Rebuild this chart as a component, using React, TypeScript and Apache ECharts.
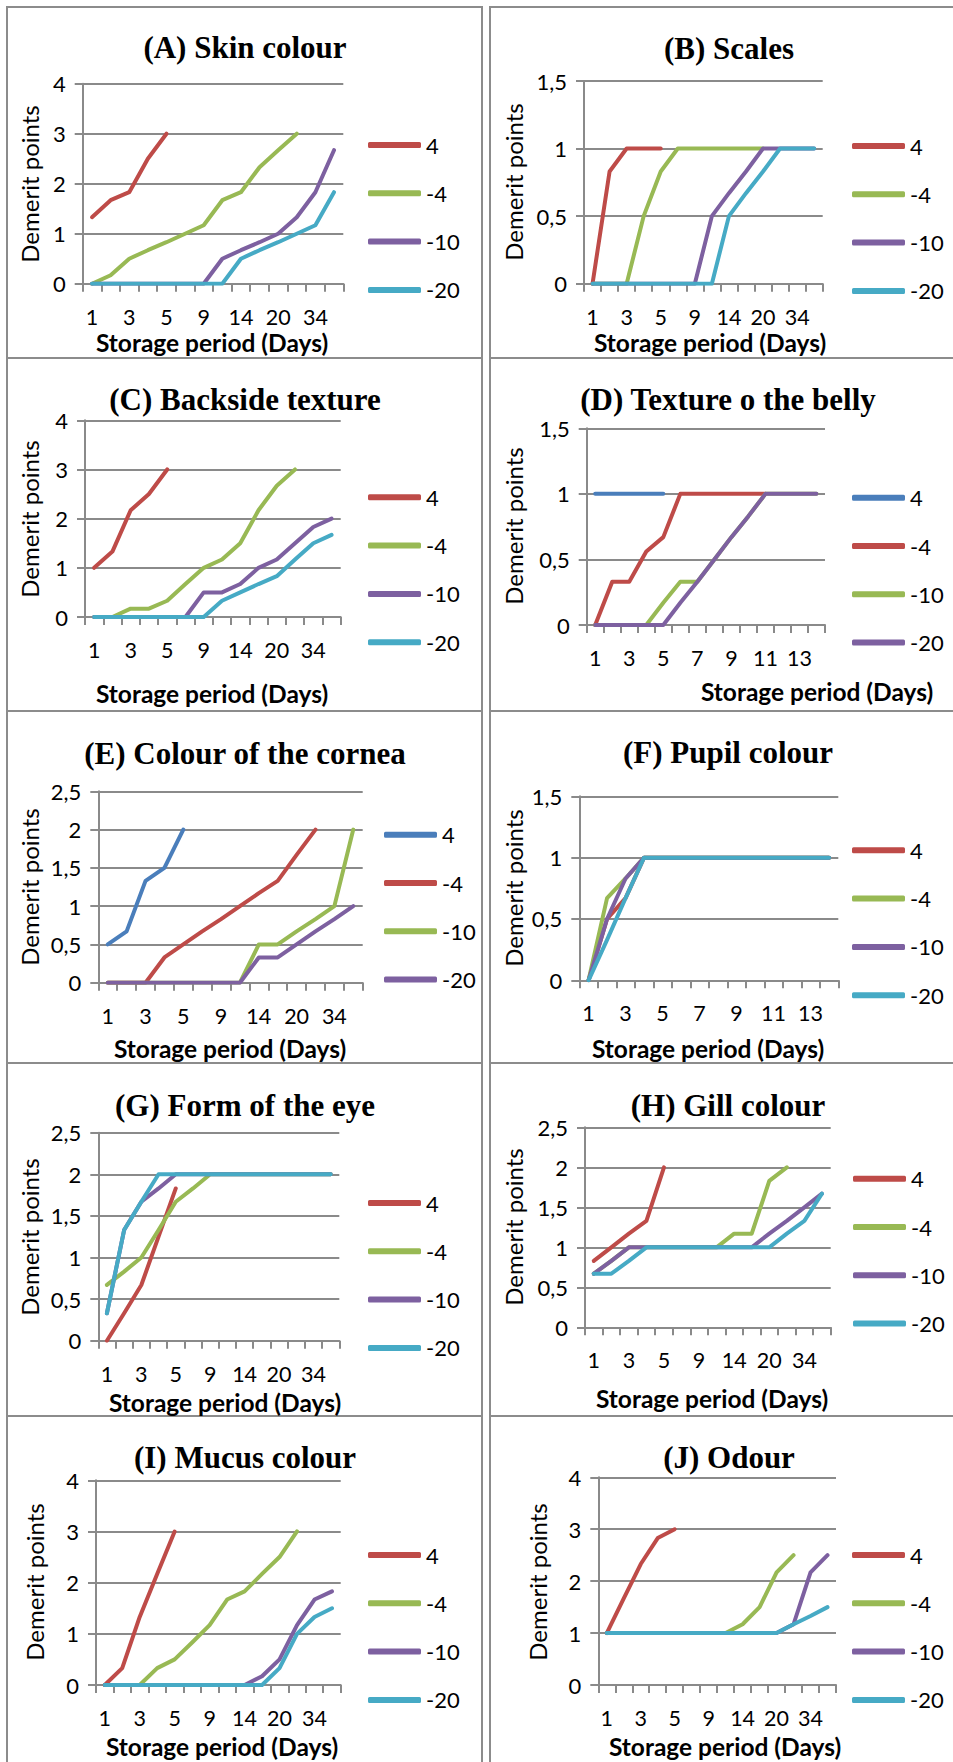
import React, { useEffect, useRef } from "react";
import * as echarts from "echarts";

// ---------- categories ----------
const dayCats = ["1", "2", "3", "4", "5", "7", "9", "11", "14", "17", "20", "27", "34", "41"];
const seqCats = ["1", "2", "3", "4", "5", "6", "7", "8", "9", "10", "11", "12", "13", "14"];
const seriesNames = ["4", "-4", "-10", "-20"];

// ---------- data (demerit points) ----------
const skin4 = [1.33, 1.67, 1.83, 2.5, 3];
const skinM4 = [0, 0.17, 0.5, 0.67, 0.83, 1, 1.17, 1.67, 1.83, 2.33, 2.67, 3];
const skinM10 = [0, 0, 0, 0, 0, 0, 0, 0.5, 0.67, 0.83, 1, 1.33, 1.83, 2.67];
const skinM20 = [0, 0, 0, 0, 0, 0, 0, 0, 0.5, 0.67, 0.83, 1, 1.17, 1.83];

const scales4 = [0, 0.83, 1, 1, 1];
const scalesM4 = [0, 0, 0, 0.5, 0.83, 1, 1, 1, 1, 1, 1];
const scalesM10 = [0, 0, 0, 0, 0, 0, 0, 0.5, 0.67, 0.83, 1, 1, 1, 1];
const scalesM20 = [0, 0, 0, 0, 0, 0, 0, 0, 0.5, 0.67, 0.83, 1, 1, 1];

const back4 = [1, 1.33, 2.17, 2.5, 3];
const backM4 = [0, 0, 0.17, 0.17, 0.33, 0.67, 1, 1.17, 1.5, 2.17, 2.67, 3];
const backM10 = [0, 0, 0, 0, 0, 0, 0.5, 0.5, 0.67, 1, 1.17, 1.5, 1.83, 2];
const backM20 = [0, 0, 0, 0, 0, 0, 0, 0.33, 0.5, 0.67, 0.83, 1.17, 1.5, 1.67];

const belly4 = [1, 1, 1, 1, 1];
const bellyM4 = [0, 0.33, 0.33, 0.56, 0.67, 1, 1, 1, 1, 1, 1];
const bellyM10 = [0, 0, 0, 0, 0.17, 0.33, 0.33, 0.5, 0.67, 0.83, 1, 1, 1, 1];
const bellyM20 = [0, 0, 0, 0, 0, 0.17, 0.33, 0.5, 0.67, 0.83, 1, 1, 1, 1];

const cornea4 = [0.5, 0.67, 1.33, 1.5, 2];
const corneaM4 = [0, 0, 0, 0.33, 0.5, 0.67, 0.83, 1, 1.17, 1.33, 1.67, 2];
const corneaM10 = [0, 0, 0, 0, 0, 0, 0, 0, 0.5, 0.5, 0.67, 0.83, 1, 2];
const corneaM20 = [0, 0, 0, 0, 0, 0, 0, 0, 0.33, 0.33, 0.5, 0.67, 0.83, 1];

const pupil4 = [0, 0.5, 0.67, 1, 1, 1, 1, 1, 1, 1, 1, 1, 1, 1];
const pupilM4 = [0, 0.67, 0.83, 1, 1, 1, 1, 1, 1, 1, 1, 1, 1, 1];
const pupilM10 = [0, 0.5, 0.83, 1, 1, 1, 1, 1, 1, 1, 1, 1, 1, 1];
const pupilM20 = [0, 0.33, 0.67, 1, 1, 1, 1, 1, 1, 1, 1, 1, 1, 1];

const eye4 = [0, 0.33, 0.67, 1.25, 1.83];
const eyeM4 = [0.67, 0.83, 1, 1.33, 1.67, 1.83, 2, 2, 2, 2, 2, 2, 2, 2];
const eyeM10 = [0.33, 1.33, 1.67, 1.83, 2, 2, 2, 2, 2, 2, 2, 2, 2, 2];
const eyeM20 = [0.33, 1.33, 1.67, 2, 2, 2, 2, 2, 2, 2, 2, 2, 2, 2];

const gill4 = [0.83, 1, 1.17, 1.33, 2];
const gillM4 = [0.67, 0.83, 1, 1, 1, 1, 1, 1, 1.17, 1.17, 1.83, 2];
const gillM10 = [0.67, 0.83, 1, 1, 1, 1, 1, 1, 1, 1, 1.17, 1.33, 1.5, 1.67];
const gillM20 = [0.67, 0.67, 0.83, 1, 1, 1, 1, 1, 1, 1, 1, 1.17, 1.33, 1.67];

const mucus4 = [0, 0.33, 1.33, 2.17, 3];
const mucusM4 = [0, 0, 0, 0.33, 0.5, 0.83, 1.17, 1.67, 1.83, 2.17, 2.5, 3];
const mucusM10 = [0, 0, 0, 0, 0, 0, 0, 0, 0, 0.17, 0.5, 1.17, 1.67, 1.83];
const mucusM20 = [0, 0, 0, 0, 0, 0, 0, 0, 0, 0, 0.33, 1, 1.33, 1.5];

const odour4 = [1, 1.67, 2.33, 2.83, 3];
const odourM4 = [1, 1, 1, 1, 1, 1, 1, 1, 1.17, 1.5, 2.17, 2.5];
const odourM10 = [1, 1, 1, 1, 1, 1, 1, 1, 1, 1, 1, 1.17, 2.17, 2.5];
const odourM20 = [1, 1, 1, 1, 1, 1, 1, 1, 1, 1, 1, 1.17, 1.33, 1.5];

// ---------- styles ----------
const RED = "#BE4B48";
const GREEN = "#98B954";
const PURPLE = "#7D60A0";
const CYAN = "#46AAC5";
const BLUE = "#4A7EBB";
const GRID_GREY = "#8a8a8a";
const COL_A = [RED, GREEN, PURPLE, CYAN];
const COL_B = [BLUE, RED, GREEN, PURPLE];
const SANS = "Lato";

type Panel = {
  title: string;
  ox: number;
  oy: number;
  cats: string[];
  yMax: number;
  yStep: number;
  data: number[][];
  colors: string[];
  grid: [number, number, number, number];
  legend: [number, number];
  titlePos: [number, number];
  yNamePos: [number, number];
  xNamePos: [number, number];
};

const panels: Panel[] = [
  { title: "(A) Skin colour", ox: 0, oy: 0, cats: dayCats, yMax: 4, yStep: 1,
    data: [skin4, skinM4, skinM10, skinM20], colors: COL_A,
    grid: [82.7, 83.7, 260.6, 200], legend: [363, 140], titlePos: [245, 47], yNamePos: [29, 184], xNamePos: [212, 342] },
  { title: "(B) Scales", ox: 485, oy: 0, cats: dayCats, yMax: 1.5, yStep: 0.5,
    data: [scales4, scalesM4, scalesM10, scalesM20], colors: COL_A,
    grid: [99, 81, 238.7, 202.7], legend: [362, 141], titlePos: [244, 48], yNamePos: [28, 182], xNamePos: [225, 342] },
  { title: "(C) Backside texture", ox: 0, oy: 355, cats: dayCats, yMax: 4, yStep: 1,
    data: [back4, backM4, backM10, backM20], colors: COL_A,
    grid: [85, 65.3, 255.7, 196.7], legend: [363, 137.3], titlePos: [245, 44], yNamePos: [29, 164], xNamePos: [212, 338] },
  { title: "(D) Texture o the belly", ox: 485, oy: 355, cats: seqCats, yMax: 1.5, yStep: 0.5,
    data: [belly4, bellyM4, bellyM10, bellyM20], colors: COL_B,
    grid: [101.7, 73.3, 238.3, 196.7], legend: [362, 137.7], titlePos: [243, 44], yNamePos: [28, 171], xNamePos: [332, 336] },
  { title: "(E) Colour of the cornea", ox: 0, oy: 708, cats: dayCats, yMax: 2.5, yStep: 0.5,
    data: [cornea4, corneaM4, corneaM10, corneaM20], colors: COL_B,
    grid: [98.3, 83.3, 264.4, 191.4], legend: [379, 121.7], titlePos: [245, 45], yNamePos: [29, 179], xNamePos: [230, 340] },
  { title: "(F) Pupil colour", ox: 485, oy: 708, cats: seqCats, yMax: 1.5, yStep: 0.5,
    data: [pupil4, pupilM4, pupilM10, pupilM20], colors: COL_A,
    grid: [94.3, 88.3, 259, 184], legend: [362, 137.3], titlePos: [243, 44], yNamePos: [28, 180], xNamePos: [223, 340] },
  { title: "(G) Form of the eye", ox: 0, oy: 1062, cats: dayCats, yMax: 2.5, yStep: 0.5,
    data: [eye4, eyeM4, eyeM10, eyeM20], colors: COL_A,
    grid: [98.3, 70.7, 241, 208], legend: [363, 136], titlePos: [245, 43], yNamePos: [29, 175], xNamePos: [225, 340] },
  { title: "(H) Gill colour", ox: 485, oy: 1062, cats: dayCats, yMax: 2.5, yStep: 0.5,
    data: [gill4, gillM4, gillM10, gillM20], colors: COL_A,
    grid: [100, 65.3, 245.7, 200], legend: [363, 111.7], titlePos: [243, 43], yNamePos: [28, 165], xNamePos: [227, 336] },
  { title: "(I) Mucus colour", ox: 0, oy: 1415, cats: dayCats, yMax: 4, yStep: 1,
    data: [mucus4, mucusM4, mucusM10, mucusM20], colors: COL_A,
    grid: [96, 65.3, 244.7, 204.7], legend: [363, 135], titlePos: [245, 42], yNamePos: [34, 167], xNamePos: [222, 331] },
  { title: "(J) Odour", ox: 485, oy: 1415, cats: dayCats, yMax: 4, yStep: 1,
    data: [odour4, odourM4, odourM10, odourM20], colors: COL_A,
    grid: [113.3, 62.3, 237.7, 207.7], legend: [362, 135], titlePos: [244, 42], yNamePos: [52, 167], xNamePos: [240, 331] },
];

const LEG_LH = 22;
const LEG_STEP = 48.3;
const TICK_LH = 18;

function buildOption(p: Panel) {
  const [gl, gt, gw, gh] = p.grid;
  return {
    animation: false,
    grid: { left: gl, top: gt, width: gw, height: gh, containLabel: false },
    xAxis: {
      type: "category",
      data: p.cats,
      boundaryGap: true,
      axisLine: { show: true, lineStyle: { color: GRID_GREY, width: 2 } },
      axisTick: { show: true, interval: 0, length: 8, lineStyle: { color: GRID_GREY, width: 2 } },
      axisLabel: { interval: 1, margin: 24, fontSize: 21.5, lineHeight: TICK_LH, color: "#000", fontFamily: SANS },
      splitLine: { show: false },
    },
    yAxis: {
      type: "value",
      min: 0,
      max: p.yMax,
      interval: p.yStep,
      axisLine: { show: true, lineStyle: { color: GRID_GREY, width: 2 } },
      axisTick: { show: true, length: 8, lineStyle: { color: GRID_GREY, width: 2 } },
      splitLine: { show: true, lineStyle: { color: GRID_GREY, width: 2 } },
      axisLabel: {
        margin: 17,
        fontSize: 22,
        lineHeight: TICK_LH,
        color: "#000",
        fontFamily: SANS,
        formatter: (v: number) => String(v).replace(".", ","),
      },
    },
    legend: {
      orient: "vertical",
      left: p.legend[0],
      top: p.legend[1] - LEG_LH / 2,
      itemWidth: 53,
      itemHeight: 6,
      itemGap: LEG_STEP - LEG_LH,
      icon: "roundRect",
      data: seriesNames,
      textStyle: { fontSize: 22, lineHeight: LEG_LH, color: "#000", fontFamily: SANS, padding: [0, 0, 0, 0] },
    },
    series: seriesNames.map((name, i) => ({
      name,
      type: "line",
      data: p.data[i],
      symbol: "none",
      color: p.colors[i],
      lineStyle: { width: 4, color: p.colors[i], cap: "round", join: "round" },
    })),
    graphic: [
      {
        type: "text",
        x: p.titlePos[0],
        y: p.titlePos[1],
        style: {
          text: p.title,
          fontFamily: "Liberation Serif",
          fontWeight: "bold",
          fontSize: 31,
          fill: "#000",
          textAlign: "center",
          textVerticalAlign: "middle",
          align: "center",
          verticalAlign: "middle",
        },
      },
      {
        type: "text",
        x: p.yNamePos[0],
        y: p.yNamePos[1],
        rotation: Math.PI / 2,
        style: {
          text: "Demerit points",
          fontFamily: SANS,
          fontSize: 24,
          fill: "#000",
          textAlign: "center",
          textVerticalAlign: "middle",
          align: "center",
          verticalAlign: "middle",
        },
      },
      {
        type: "text",
        x: p.xNamePos[0],
        y: p.xNamePos[1],
        style: {
          text: "Storage period (Days)",
          fontFamily: SANS,
          fontWeight: "bold",
          fontSize: 24.5,
          lineHeight: 20,
          fill: "#000",
          textAlign: "center",
          textVerticalAlign: "middle",
          align: "center",
          verticalAlign: "middle",
        },
      },
    ],
  };
}

function ChartPanel({ p }: { p: Panel }) {
  const ref = useRef<HTMLDivElement>(null);
  useEffect(() => {
    if (!ref.current) return;
    const chart = echarts.init(ref.current, undefined, { renderer: "svg" });
    chart.setOption(buildOption(p) as any);
    return () => chart.dispose();
  }, [p]);
  const w = p.ox === 0 ? 480 : 953 - p.ox;
  const h = Math.min(364, 1762 - p.oy);
  return (
    <div
      ref={ref}
      style={{ position: "absolute", left: p.ox, top: p.oy, width: w, height: h }}
    />
  );
}

const BORDER = "#8c8c8c";
const vLines = [7, 482, 490];
const hLines = [7, 358, 711, 1063, 1416];

export default function App() {
  return (
    <div
      style={{
        position: "absolute",
        left: 0,
        top: 0,
        width: 953,
        height: 1762,
        background: "#fff",
        overflow: "hidden",
      }}
    >
      {vLines.map((x) => (
        <div
          key={"v" + x}
          style={{ position: "absolute", left: x - 1, top: 6, width: 2, height: 1762, background: BORDER }}
        />
      ))}
      {hLines.map((y) => (
        <React.Fragment key={"h" + y}>
          <div style={{ position: "absolute", left: 6, top: y - 1, width: 477, height: 2, background: BORDER }} />
          <div style={{ position: "absolute", left: 489, top: y - 1, width: 470, height: 2, background: BORDER }} />
        </React.Fragment>
      ))}
      {panels.map((p) => (
        <ChartPanel key={p.title} p={p} />
      ))}
    </div>
  );
}
